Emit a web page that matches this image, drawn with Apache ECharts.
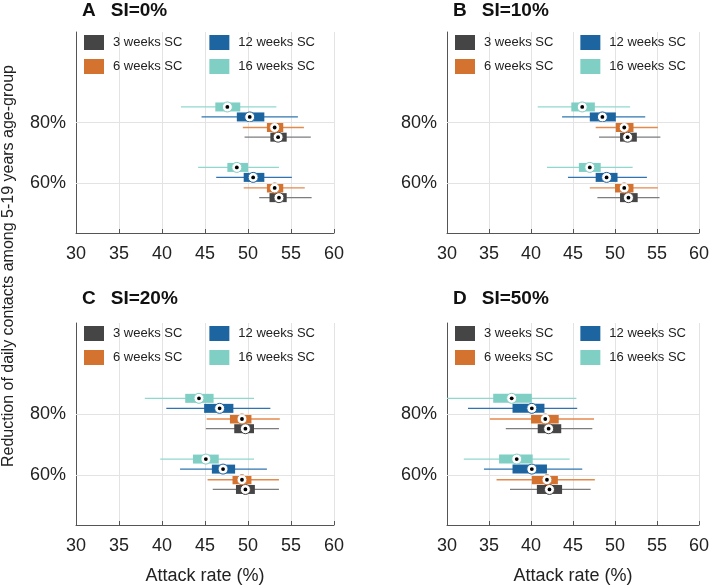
<!DOCTYPE html>
<html><head><meta charset="utf-8">
<script src="https://cdn.jsdelivr.net/npm/echarts@6/dist/echarts.min.js"></script>
<style>html,body{margin:0;padding:0;background:#fff}#c{width:709px;height:586px}</style>
</head><body><div id="c"></div><script>
const durations = ['3 weeks SC', '6 weeks SC', '12 weeks SC', '16 weeks SC'];
const reductionLevels = [60, 80];
const panelLetters = ['A', 'B', 'C', 'D'];
const panelSI = ['SI=0%', 'SI=10%', 'SI=20%', 'SI=50%'];
const xTickMin = 30, xTickMax = 60, xTickStep = 5;
const xAxisTitle = 'Attack rate (%)';
const yAxisTitle = 'Reduction of daily contacts among 5-19 years age-group';

// [whiskerLow, q1, median, q3, whiskerHigh]; rows: 60%, 80%
const A_3w  = [[51.3, 52.5, 53.6, 54.5, 57.4], [49.6, 52.6, 53.5, 54.5, 57.3]];
const A_6w  = [[49.5, 52.2, 53.1, 54.1, 56.6], [49.4, 52.2, 53.1, 54.1, 56.5]];
const A_12w = [[46.3, 49.5, 50.6, 51.9, 55.1], [44.6, 48.7, 50.2, 51.9, 55.8]];
const A_16w = [[44.2, 47.6, 48.7, 50.0, 53.6], [42.2, 46.2, 47.6, 49.1, 53.3]];

const B_3w  = [[47.9, 50.6, 51.6, 52.7, 55.3], [48.1, 50.6, 51.5, 52.6, 55.4]];
const B_6w  = [[47.0, 50.0, 51.1, 52.2, 55.1], [47.7, 50.1, 51.1, 52.2, 55.1]];
const B_12w = [[44.4, 47.7, 49.0, 50.3, 53.8], [43.7, 47.0, 48.5, 50.1, 53.6]];
const B_16w = [[41.9, 45.7, 47.0, 48.3, 52.1], [40.8, 44.8, 46.1, 47.6, 51.8]];

const C_3w  = [[45.9, 48.6, 49.7, 50.8, 53.6], [45.1, 48.4, 49.7, 50.7, 53.6]];
const C_6w  = [[45.3, 48.2, 49.3, 50.4, 53.6], [45.2, 47.9, 49.3, 50.4, 53.7]];
const C_12w = [[42.1, 45.8, 47.1, 48.5, 52.2], [40.5, 44.9, 46.7, 48.3, 52.6]];
const C_16w = [[39.8, 43.6, 45.1, 46.6, 50.7], [38.0, 42.7, 44.3, 46.0, 50.7]];

const D_3w  = [[37.5, 40.7, 42.2, 43.7, 47.1], [37.0, 40.8, 42.1, 43.6, 47.3]];
const D_6w  = [[35.9, 40.1, 41.9, 43.2, 47.6], [35.1, 40.0, 41.7, 43.3, 47.5]];
const D_12w = [[34.4, 37.8, 40.1, 41.9, 46.1], [32.5, 37.8, 40.1, 41.6, 45.5]];
const D_16w = [[32.0, 36.2, 38.3, 40.2, 44.6], [29.9, 35.5, 37.7, 40.1, 45.4]];

const panelData = [
  [A_3w, A_6w, A_12w, A_16w],
  [B_3w, B_6w, B_12w, B_16w],
  [C_3w, C_6w, C_12w, C_16w],
  [D_3w, D_6w, D_12w, D_16w]
];

// ---- styling / layout ----
const FONT = 'Liberation Sans, Arial, Helvetica, sans-serif';
const boxColors = ['#454545', '#d4722f', '#1d65a0', '#80cfc5'];
const whiskerColors = ['#7d7d7d', '#e48a4c', '#2f74b0', '#8fd8ce'];
const dodge = [-4.8, -1.6, 1.9, 5.2];
const grids = [
  { left: 76, top: 32, width: 258, height: 201 },
  { left: 447, top: 32, width: 252, height: 201 },
  { left: 76, top: 323, width: 258, height: 202 },
  { left: 447, top: 323, width: 252, height: 202 }
];
const titlePos = [[82, 1], [453, 1], [82, 289], [453, 289]];
const legendPos = [[84, 35], [455, 35], [84, 326], [455, 326]];

function makeRender(color, wColor) {
  return function (params, api) {
    const y = api.value(5);
    const lo = api.coord([api.value(0), y]);
    const q1 = api.coord([api.value(1), y]);
    const md = api.coord([api.value(2), y]);
    const q3 = api.coord([api.value(3), y]);
    const hi = api.coord([api.value(4), y]);
    const h = 9;
    return {
      type: 'group',
      children: [
        { type: 'line', shape: { x1: lo[0], y1: lo[1], x2: hi[0], y2: hi[1] }, style: { stroke: wColor, lineWidth: 1.3 } },
        { type: 'rect', shape: { x: q1[0], y: q1[1] - h / 2, width: q3[0] - q1[0], height: h }, style: { fill: color } },
        { type: 'circle', shape: { cx: md[0], cy: md[1], r: 5 }, style: { fill: '#fff', stroke: color, lineWidth: 1 } },
        { type: 'circle', shape: { cx: md[0], cy: md[1], r: 1.9 }, style: { fill: '#000' } }
      ]
    };
  };
}

const option = {
  animation: false,
  backgroundColor: '#fff',
  textStyle: { fontFamily: FONT },
  title: [], grid: [], xAxis: [], yAxis: [], legend: [], series: [],
  graphic: [{
    type: 'text', x: 9, y: 266, rotation: Math.PI / 2,
    style: { text: yAxisTitle, fontSize: 16, fontFamily: FONT, fill: '#222', align: 'center', verticalAlign: 'middle' }
  }]
};

for (let p = 0; p < 4; p++) {
  option.title.push({
    left: titlePos[p][0], top: titlePos[p][1], padding: 0,
    text: '{a|' + panelLetters[p] + '}{b|' + panelSI[p] + '}',
    textStyle: {
      rich: {
        a: { fontSize: 19, fontWeight: 'bold', color: '#111', fontFamily: FONT },
        b: { fontSize: 19, fontWeight: 'bold', color: '#111', fontFamily: FONT, padding: [0, 0, 0, 15] }
      }
    }
  });
  option.grid.push(Object.assign({ outerBoundsMode: 'none', containLabel: false }, grids[p]));
  const bottomRow = p >= 2;
  option.xAxis.push({
    type: 'value', gridIndex: p, min: xTickMin, max: xTickMax, interval: xTickStep,
    name: bottomRow ? xAxisTitle : '', nameLocation: 'middle', nameGap: 42,
    nameTextStyle: { fontSize: 18, color: '#222', fontFamily: FONT },
    axisLine: { show: true, lineStyle: { color: '#555', width: 1 } },
    axisTick: { show: true, inside: true, length: 4, lineStyle: { color: '#555' } },
    axisLabel: { fontSize: 18, color: '#222', margin: 12, fontFamily: FONT },
    splitLine: { show: true, lineStyle: { color: '#e3e3e3', width: 1 } }
  });
  option.yAxis.push({
    type: 'value', gridIndex: p, min: 43.5, max: 110,
    axisLine: { show: true, lineStyle: { color: '#555', width: 1 } },
    axisTick: { show: true, inside: true, length: 4, customValues: reductionLevels, lineStyle: { color: '#555' } },
    axisLabel: { fontSize: 18, color: '#222', margin: 10, fontFamily: FONT, customValues: reductionLevels, formatter: v => v + '%' },
    splitLine: { show: false }
  });
  const legendBase = {
    orient: 'horizontal', icon: 'rect', itemWidth: 20, itemHeight: 15, itemGap: 27, padding: 0,
    selectedMode: false,
    textStyle: { fontSize: 13, color: '#222', fontFamily: FONT, padding: [0, 0, 0, 4] }
  };
  option.legend.push(Object.assign({}, legendBase, { left: legendPos[p][0], top: legendPos[p][1], data: [durations[0], durations[2]] }));
  option.legend.push(Object.assign({}, legendBase, { left: legendPos[p][0], top: legendPos[p][1] + 24, data: [durations[1], durations[3]] }));

  option.series.push({
    type: 'line', name: 'gridlines' + p, xAxisIndex: p, yAxisIndex: p, data: [], z: 1, silent: true,
    markLine: {
      silent: true, symbol: ['none', 'none'], label: { show: false }, animation: false,
      lineStyle: { color: '#e3e3e3', width: 1, type: 'solid' },
      data: reductionLevels.map(v => ({ yAxis: v }))
    }
  });
  for (let d = 0; d < durations.length; d++) {
    const stats = panelData[p][d];
    option.series.push({
      type: 'custom', name: durations[d], xAxisIndex: p, yAxisIndex: p, z: 3, clip: true,
      itemStyle: { color: boxColors[d] },
      encode: { x: [0, 1, 2, 3, 4], y: 5 },
      renderItem: makeRender(boxColors[d], whiskerColors[d]),
      data: reductionLevels.map((lvl, i) => stats[i].concat([lvl + dodge[d]]))
    });
  }
}

const chart = echarts.init(document.getElementById('c'), null, { renderer: 'canvas' });
chart.setOption(option);
</script></body></html>
